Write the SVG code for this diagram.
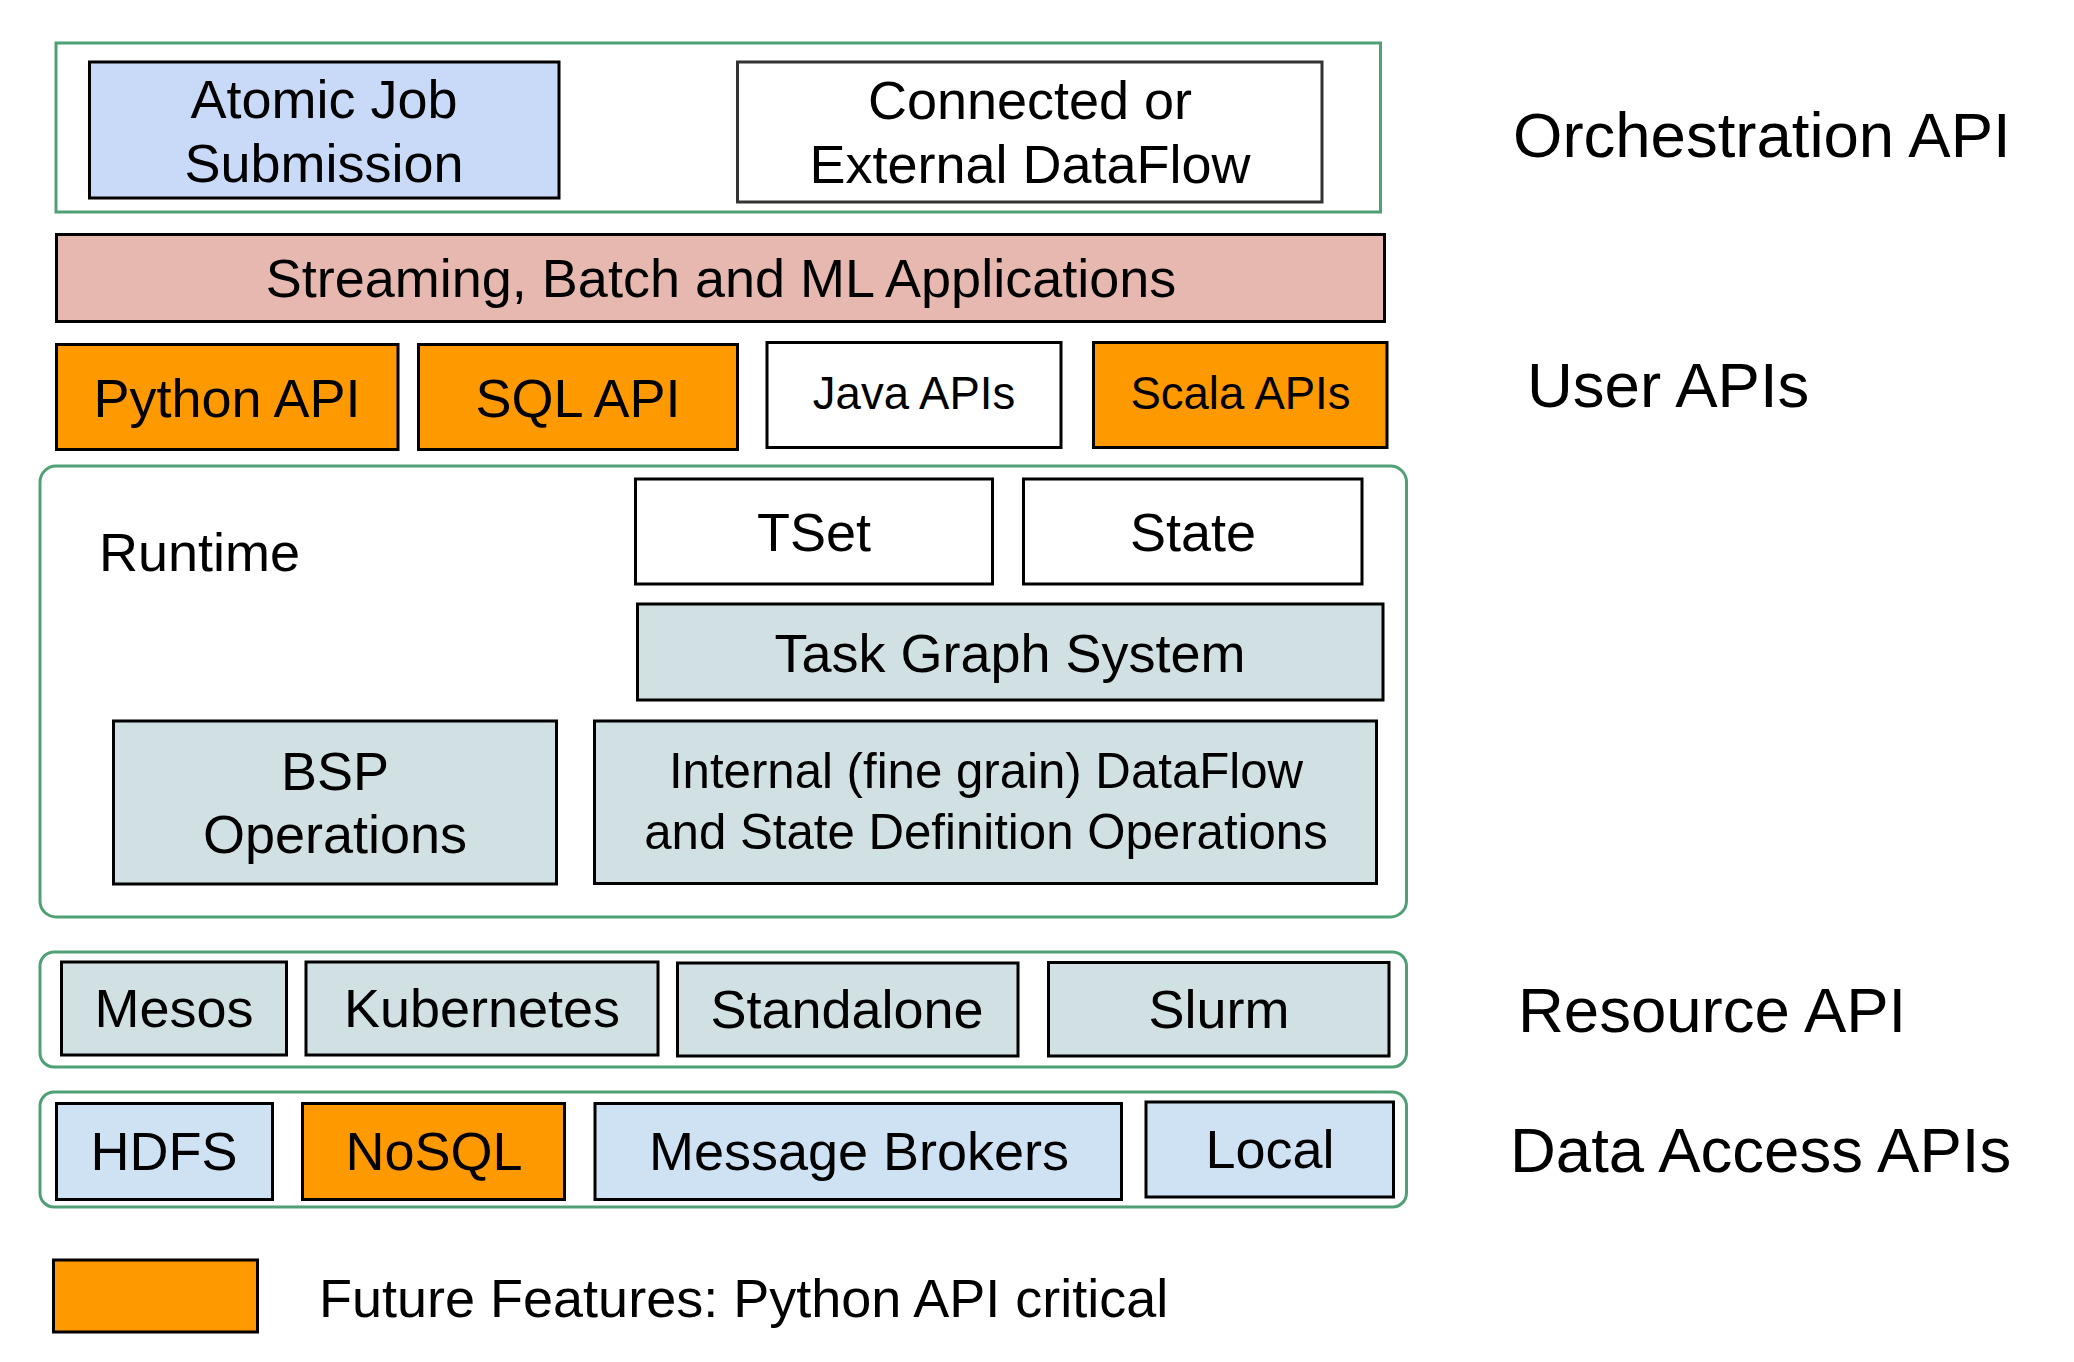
<svg xmlns="http://www.w3.org/2000/svg" width="2074" height="1362" viewBox="0 0 2074 1362">
<style>
text{font-family:"Liberation Sans",Arial,sans-serif;fill:#000;}
.c{text-anchor:middle;}
.f53{font-size:54px;}
.f48{font-size:49.2px;}
.f44{font-size:45.5px;}
.f61{font-size:63.5px;}
.grp{fill:#fff;stroke:#50a075;stroke-width:3;}
.b{stroke:#000;stroke-width:3;}
.w{fill:#fff;}
.blue{fill:#c9daf8;}
.lblue{fill:#cfe2f3;}
.pink{fill:#e6b8af;}
.orange{fill:#ff9900;}
.gray{fill:#d0e0e3;}
</style>
<rect width="2074" height="1362" fill="#fff"/>
<g id="group-orchestration"><rect class="grp" x="56" y="43" width="1324.5" height="169"/></g>
<g id="group-runtime"><rect class="grp" x="40" y="466" width="1366.5" height="451" rx="16"/></g>
<g id="group-resource"><rect class="grp" x="40" y="952" width="1366.5" height="115" rx="14"/></g>
<g id="group-data"><rect class="grp" x="40" y="1092" width="1366.5" height="115" rx="14"/></g>

<g id="atomic"><rect class="b blue" x="89.5" y="62" width="469.5" height="136"/><text class="c f53" x="324" y="118">Atomic Job</text><text class="c f53" x="324" y="182">Submission</text></g>
<g id="connected"><rect class="w" stroke="#333" stroke-width="3" x="737.5" y="62" width="584.5" height="140"/><text class="c f53" x="1030" y="119">Connected or</text><text class="c f53" x="1030" y="183">External DataFlow</text></g>
<g id="streaming"><rect class="b pink" x="56.5" y="234.5" width="1328" height="87"/><text class="c f53" x="721" y="297">Streaming, Batch and ML Applications</text></g>
<g id="python"><rect class="b orange" x="56.5" y="344.5" width="341.5" height="105"/><text class="c f53" x="227" y="417">Python API</text></g>
<g id="sql"><rect class="b orange" x="418.5" y="344.5" width="319" height="105"/><text class="c f53" x="578" y="417">SQL API</text></g>
<g id="java"><rect class="b w" x="767" y="342.5" width="294" height="105"/><text class="c f44" x="914" y="409">Java APIs</text></g>
<g id="scala"><rect class="b orange" x="1093.5" y="342.5" width="293.5" height="105"/><text class="c f44" x="1240.5" y="409">Scala APIs</text></g>

<g id="runtime-label"><text class="f53" x="99" y="571">Runtime</text></g>
<g id="tset"><rect class="b w" x="635.5" y="479" width="357" height="105"/><text class="c f53" x="814" y="551">TSet</text></g>
<g id="state"><rect class="b w" x="1023.5" y="479" width="338.5" height="105"/><text class="c f53" x="1193" y="551">State</text></g>
<g id="taskgraph"><rect class="b gray" x="637.5" y="604" width="745.5" height="96"/><text class="c f53" x="1010" y="672">Task Graph System</text></g>
<g id="bsp"><rect class="b gray" x="113.5" y="721" width="443" height="163"/><text class="c f53" x="335" y="790">BSP</text><text class="c f53" x="335" y="853">Operations</text></g>
<g id="internal"><rect class="b gray" x="594.5" y="721" width="782" height="162.5"/><text class="c f48" x="986" y="788">Internal (fine grain) DataFlow</text><text class="c f48" x="986" y="849">and State Definition Operations</text></g>

<g id="mesos"><rect class="b gray" x="61.5" y="962" width="225" height="93"/><text class="c f53" x="174" y="1027">Mesos</text></g>
<g id="kubernetes"><rect class="b gray" x="306" y="962" width="352" height="93"/><text class="c f53" x="482" y="1027">Kubernetes</text></g>
<g id="standalone"><rect class="b gray" x="677.5" y="963" width="340.5" height="93"/><text class="c f53" x="847" y="1028">Standalone</text></g>
<g id="slurm"><rect class="b gray" x="1048.5" y="962.5" width="340.5" height="93.5"/><text class="c f53" x="1219" y="1028">Slurm</text></g>

<g id="hdfs"><rect class="b lblue" x="56.5" y="1103.5" width="216" height="96"/><text class="c f53" x="164" y="1170">HDFS</text></g>
<g id="nosql"><rect class="b orange" x="302.5" y="1103.5" width="262" height="96"/><text class="c f53" x="434" y="1170">NoSQL</text></g>
<g id="brokers"><rect class="b lblue" x="595" y="1103.5" width="526.5" height="96"/><text class="c f53" x="859" y="1170">Message Brokers</text></g>
<g id="local"><rect class="b lblue" x="1146" y="1102" width="247.5" height="95"/><text class="c f53" x="1270" y="1168">Local</text></g>

<g id="labels">
<text class="f61" x="1513" y="157">Orchestration API</text>
<text class="f61" x="1527" y="407">User APIs</text>
<text class="f61" x="1518" y="1032">Resource API</text>
<text class="f61" x="1510" y="1172">Data Access APIs</text>
</g>
<g id="legend"><rect class="b orange" x="53.5" y="1260" width="204" height="72"/><text class="f53" x="319" y="1317">Future Features: Python API critical</text></g>
<g id="connectors"></g>
</svg>
